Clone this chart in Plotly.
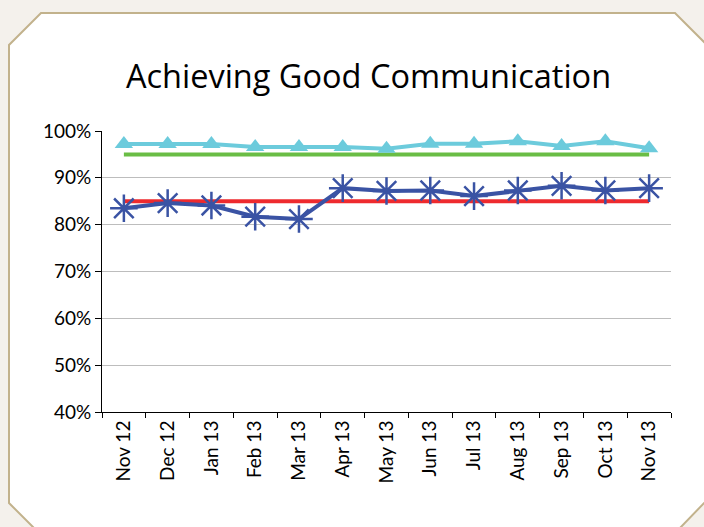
import plotly.graph_objects as go

months = ["Nov 12", "Dec 12", "Jan 13", "Feb 13", "Mar 13", "Apr 13", "May 13",
          "Jun 13", "Jul 13", "Aug 13", "Sep 13", "Oct 13", "Nov 13"]
actual = [0.835, 0.846, 0.841, 0.817, 0.812, 0.878, 0.872, 0.873, 0.861, 0.873, 0.883, 0.873, 0.878]
upper_series = [0.972, 0.972, 0.972, 0.966, 0.966, 0.966, 0.962, 0.973, 0.973, 0.978, 0.968, 0.978, 0.963]
green_target = [0.95] * 13
red_target = [0.85] * 13

W, H = 704, 527
L, R, T, B = 102, 671, 131, 412

def px(x):
    return (x - L) / (R - L)

def py(y):
    return (B - y) / (B - T)

fig = go.Figure()
fig.add_trace(go.Scatter(x=months, y=green_target, mode="lines",
                         line=dict(color="#6abd45", width=4), hoverinfo="skip"))
fig.add_trace(go.Scatter(x=months, y=red_target, mode="lines",
                         line=dict(color="#ee2a2e", width=4), hoverinfo="skip"))
fig.add_trace(go.Scatter(x=months, y=upper_series, mode="lines+markers",
                         line=dict(color="#6ccbdc", width=4),
                         marker=dict(symbol="triangle-up", size=16, color="#6ccbdc")))
fig.add_trace(go.Scatter(x=months, y=actual, mode="lines+markers",
                         line=dict(color="#3a53a4", width=4),
                         marker=dict(symbol="asterisk-open", size=23,
                                     line=dict(color="#3a53a4", width=2.5))))

pts = [(41, 13), (675, 13), (707, 45), (707, 500), (679, 529), (35, 529), (9, 503), (9, 45)]
path = "M " + " L ".join(f"{px(x):.5f},{py(y):.5f}" for x, y in pts) + " Z"
fig.add_shape(type="path", xref="paper", yref="paper", path=path,
              fillcolor="white", line=dict(color="#c2b28c", width=2), layer="below")

fig.update_layout(
    width=W, height=H,
    margin=dict(l=L, r=W - R, t=T, b=H - B),
    paper_bgcolor="#f4f1ec",
    plot_bgcolor="rgba(0,0,0,0)",
    showlegend=False,
    font=dict(family="Lato, Open Sans, sans-serif", color="black", size=19),
    title=dict(text="Achieving Good Communication", x=(368.5 - L) / (R - L), xref="paper",
               xanchor="center", y=1 - 77 / H, yanchor="middle",
               font=dict(family="Open Sans, sans-serif", size=32.5, color="black")),
)
fig.update_xaxes(type="category", tickson="boundaries", ticks="outside", ticklen=5,
                 tickcolor="black", showline=True, linecolor="black", linewidth=1,
                 showgrid=False, tickangle=-90, range=[-0.5, 12.5],
                 tickfont=dict(size=19))
fig.update_yaxes(range=[0.4, 1.0], dtick=0.1, tickformat=".0%", ticks="outside",
                 ticklen=6, tickcolor="black", showline=True, linecolor="black",
                 linewidth=1, showgrid=True, gridcolor="#bdbdbd", gridwidth=1,
                 zeroline=False, tickfont=dict(size=19))

fig.write_html("out.html", config={"displayModeBar": False},
               post_script="document.body.style.margin='0';document.body.style.overflow='hidden';")
